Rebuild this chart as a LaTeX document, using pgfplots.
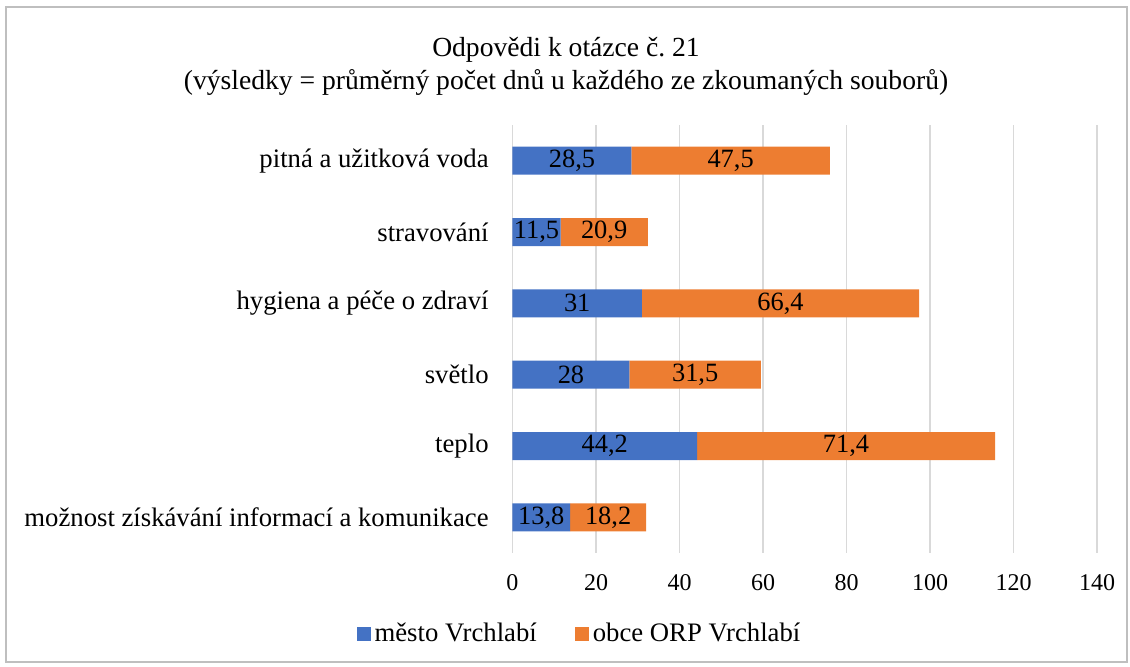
\documentclass[border=0pt]{standalone}
\usepackage{pgfplots}
\usepackage{pgfplotstable}
\pgfplotsset{compat=1.18}
\usepackage{fontspec}
\setmainfont{Liberation Serif}
\frenchspacing
\definecolor{cblue}{HTML}{4472C4}
\definecolor{corange}{HTML}{ED7D31}
\definecolor{cgrid}{HTML}{D9D9D9}
\definecolor{cframe}{HTML}{BFBFBF}
\pgfplotstableread{
y a b la lb
0 28.5 47.5 28,5 47,5
1 11.5 20.9 11,5 20,9
2 31 66.4 31 66,4
3 28 31.5 28 31,5
4 44.2 71.4 44,2 71,4
5 13.8 18.2 13,8 18,2
}\datatable
\newcommand{\lblfont}{\fontsize{13.35pt}{16pt}\selectfont}
\newcommand{\tickfont}{\fontsize{12pt}{14pt}\selectfont}
\newcommand{\datfont}{\fontsize{13.2pt}{15pt}\selectfont}
\begin{document}
\begin{tikzpicture}
\path (0,0) rectangle (565pt,333pt);
\draw[cframe, line width=0.6pt] (3pt,2pt) rectangle (563.5pt,329.5pt);
\node[font=\fontsize{13.8pt}{16pt}\selectfont, anchor=center] at (283pt,308pt) {Odpovědi k otázce č. 21};
\node[font=\fontsize{13.8pt}{16pt}\selectfont, anchor=center] at (283pt,292pt) {(výsledky = průměrný počet dnů u každého ze zkoumaných souborů)};
\begin{axis}[
  at={(256.25pt,56.5pt)}, anchor=south west,
  scale only axis, width=292.25pt, height=214pt,
  xbar stacked, bar width=14pt,
  xmin=0, xmax=140, ymin=-0.5, ymax=5.5,
  y dir=reverse,
  xtick={0,20,...,140},
  ytick={0,1,2,3,4,5},
  yticklabels={pitná a užitková voda, stravování, hygiena a péče o zdraví, světlo, teplo, možnost získávání informací a komunikace},
  /pgf/number format/assume math mode=true,
  xmajorgrids, major grid style={cgrid, line width=0.8pt},
  axis line style={draw=none},
  major tick length=0pt, tick style={draw=none},
  yticklabel style={font=\lblfont, anchor=east, inner sep=0pt, xshift=-11.75pt},
  xticklabel style={font=\tickfont, anchor=center, inner sep=0pt, yshift=-15pt},
  legend style={at={(0.1163,-0.189)}, anchor=center, draw=none, fill=none, legend columns=2, font=\lblfont,
    /tikz/every even column/.append style={column sep=17pt}},
  legend image code/.code={\fill[#1] (0pt,-3.5pt) rectangle (7pt,3.5pt);},
  nodes near coords,
  point meta=explicit symbolic,
  every node near coord/.append style={font=\datfont, anchor=center, text=black, inner sep=0pt},
]
\addplot[fill=cblue, draw=none]
  table[x=a, y=y, meta=la] {\datatable};
\addlegendentry{město Vrchlabí}
\addplot[fill=corange, draw=none]
  table[x=b, y=y, meta=lb] {\datatable};
\addlegendentry{obce ORP Vrchlabí}
\end{axis}
\end{tikzpicture}
\end{document}
